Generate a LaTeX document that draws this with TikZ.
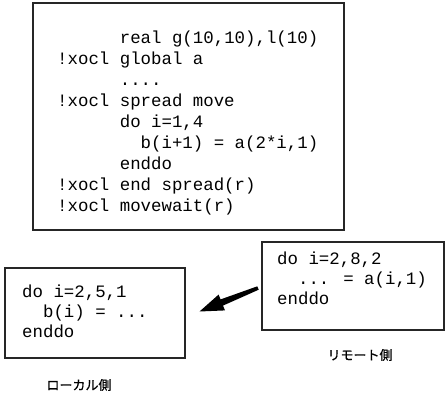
\documentclass[tikz,border=0pt]{standalone}
\usepackage{fontspec}
\newfontfamily\codefont{Liberation Mono}
\newfontfamily\jpfont[FakeBold=0.6]{Noto Sans CJK JP}
\newcommand{\sk}[1]{\phantom{#1}}
\begin{document}
\begin{tikzpicture}[x=1pt,y=-1pt,
  codebox/.style={draw=black!85,line width=1.1pt,rectangle,inner sep=0pt},
  code/.style={font=\codefont\fontsize{17.4}{20}\selectfont,anchor=base west,inner sep=0pt},
  lbl/.style={font=\jpfont\fontsize{13}{13}\selectfont,inner sep=0pt}]
\useasboundingbox (0,0) rectangle (446,399);
% top box
\node[codebox,minimum width=311pt,minimum height=227pt] (top) at (188.5,116.5) {};
\node[code,font=\codefont\fontsize{17.4}{21}\selectfont] (topcode) at (57,43) {\begin{tabular}[t]{@{}l@{}}\sk{xxxxxx}real g(10,10),l(10)\\
!xocl global a\\
\sk{xxxxxx}....\\
!xocl spread move\\
\sk{xxxxxx}do i=1,4\\
\sk{xxxxxxxx}b(i+1) = a(2*i,1)\\
\sk{xxxxxx}enddo\\
!xocl end spread(r)\\
!xocl movewait(r)\end{tabular}};
% local box
\node[codebox,minimum width=180pt,minimum height=90pt] (local) at (95,313) {};
\node[code] (localcode) at (22,297) {\begin{tabular}[t]{@{}l@{}}do i=2,5,1\\
\sk{xx}b(i) = ...\\
enddo\end{tabular}};
\node[lbl] (locallbl) at (79,385) {ローカル側};
% remote box
\node[codebox,minimum width=182pt,minimum height=88pt] (remote) at (353,286) {};
\node[code] (remotecode) at (277,264) {\begin{tabular}[t]{@{}l@{}}do i=2,8,2\\
\sk{xx}... = a(i,1)\\
enddo\end{tabular}};
\node[lbl] (remotelbl) at (360,355) {リモート側};
% arrow
\coordinate (atail) at (258,288);
\coordinate (atip) at (199.5,311.5);
\fill[black] (atip) -- (218.6,294.6) -- (220.6,299.4) -- (257.3,286.3) -- (258.7,289.7) -- (223.0,305.6) -- (225.0,310.4) -- cycle;
\end{tikzpicture}
\end{document}
